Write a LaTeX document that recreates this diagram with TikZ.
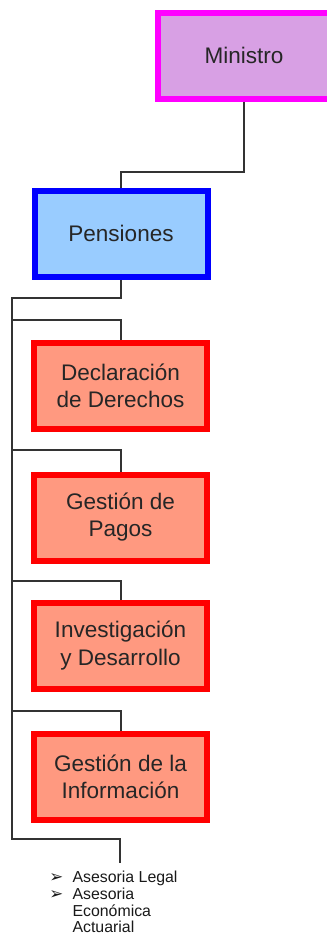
\documentclass[tikz,border=0pt]{standalone}
\usepackage{fontspec}
\setmainfont{Liberation Sans}
\newfontfamily\symfont{DejaVu Sans}
\usetikzlibrary{shadows}
\definecolor{minifill}{RGB}{216,160,228}
\definecolor{miniline}{RGB}{255,0,255}
\definecolor{pensfill}{RGB}{153,204,255}
\definecolor{unitfill}{RGB}{255,153,128}
\begin{document}
\begin{tikzpicture}[x=0.75pt,y=-0.75pt]
    \clip (0,0) rectangle (327,939);
    % Stijlen
    \tikzset{
        box/.style={draw, line width=4.5pt, minimum width=129.75pt, minimum height=64.5pt,
            align=center, text=black!85, font=\fontsize{16.9}{20.3}\selectfont, inner sep=0pt},
        mini/.style={box, draw=miniline, fill=minifill, minimum width=129pt,
            drop shadow={shadow xshift=1.2pt, shadow yshift=-1.2pt, fill=miniline, opacity=1}},
        pens/.style={box, draw=blue, fill=pensfill,
            drop shadow={shadow xshift=1.2pt, shadow yshift=-1.2pt, fill=blue, opacity=1}},
        unit/.style={box, draw=red, fill=unitfill,
            drop shadow={shadow xshift=1.2pt, shadow yshift=-1.2pt, fill=red, opacity=1}},
        conn/.style={draw=black!80, line width=1.5pt}
    }

    % Dozen
    \node[mini] (mini) at (244,55.5) {Ministro};
    \node[pens] (pens) at (121,233.5) {Pensiones};
    \node[unit] (decl) at (120.5,385.5) {Declaración\\de Derechos};
    \node[unit] (pago) at (120.5,517.5) {Gestión de\\Pagos};
    \node[unit] (inv)  at (120.5,645.5) {Investigación\\y Desarrollo};
    \node[unit] (info) at (120.5,776.5) {Gestión de la\\Información};

    % Lijst
    \node[anchor=north west, inner sep=0pt, text=black!90,
        font=\fontsize{11.9}{13.2}\selectfont] (ases) at (49,870)
        {\begin{tabular}{@{}l@{\hspace{7pt}}l@{}}
            {\symfont\fontsize{12.5}{9.5}\selectfont ➢} & Asesoria Legal\\[-0.6pt]
            {\symfont\fontsize{12.5}{9.5}\selectfont ➢} & Asesoria\\[-0.6pt]
             & Económica\\[-0.6pt]
             & Actuarial
        \end{tabular}};

    % Lijnen
    \coordinate (top) at (12,298);
    \coordinate (bot) at (12,839);
    \coordinate (end) at (120,863);
    \draw[conn] (mini.south) -- ++(0,70) -| (pens.north);
    \draw[conn] (pens.south) |- (top) -- (bot) -| (end);
    \foreach \n/\y in {decl/320, pago/450, inv/581, info/711}
        \draw[conn] (12,\y) -| (\n.north);
\end{tikzpicture}
\end{document}
